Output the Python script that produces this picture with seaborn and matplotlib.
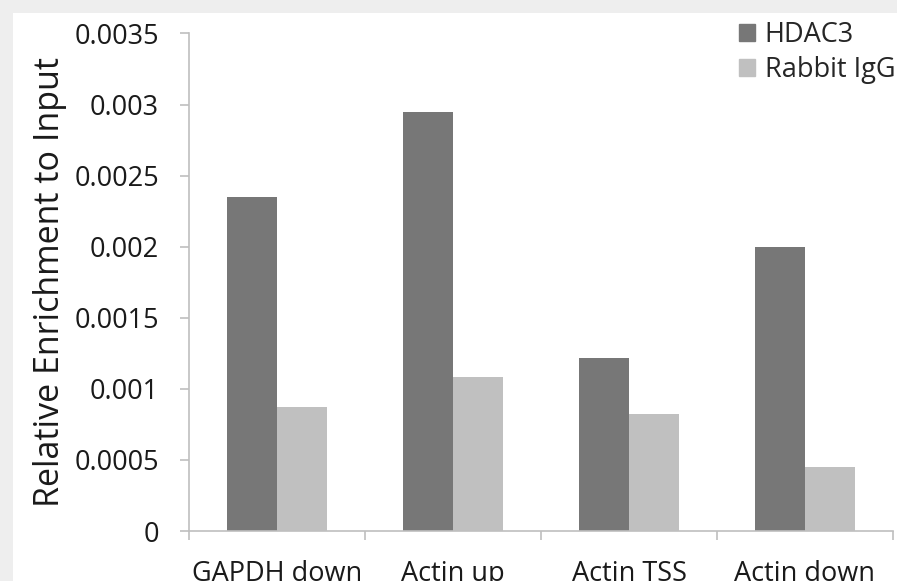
import seaborn as sns
import matplotlib.pyplot as plt
import matplotlib.patches as mpatches
import pandas as pd
import numpy as np

# data
regions = ["GAPDH down", "Actin up", "Actin TSS", "Actin down"]
hdac3 = [0.00235, 0.00295, 0.00122, 0.00200]
rabbit_igg = [0.00087, 0.00108, 0.00082, 0.00045]
series = ["HDAC3", "Rabbit IgG"]
yticks = [0, 0.0005, 0.001, 0.0015, 0.002, 0.0025, 0.003, 0.0035]
ytick_labels = ["0", "0.0005", "0.001", "0.0015", "0.002", "0.0025", "0.003", "0.0035"]

df = pd.DataFrame({
    "region": regions * 2,
    "series": [series[0]] * len(regions) + [series[1]] * len(regions),
    "value": hdac3 + rabbit_igg,
})

sns.set_style("white")
plt.rcParams['font.family'] = ['Open Sans', 'DejaVu Sans']

fig = plt.figure(figsize=(8.97, 5.81), dpi=100, facecolor="#eeeeee")
# white panel inside the grey frame
fig.patches.append(mpatches.Rectangle((13 / 897, 0), 1, 1 - 13 / 581,
                                      transform=fig.transFigure, facecolor="white",
                                      edgecolor="none", zorder=-10))
ax = fig.add_axes([189 / 897, 50 / 581, (893 - 189) / 897, (531 - 33.5) / 581])
ax.set_facecolor("none")

sns.barplot(data=df, x="region", y="value", hue="series", ax=ax,
            palette=["#777777", "#c0c0c0"], width=0.57, saturation=1,
            edgecolor="none", linewidth=0)

ax.set_ylim(0, 0.0035)
ax.set_xlim(-0.5, len(regions) - 0.5)
ax.set_yticks(yticks)
ax.set_yticklabels(ytick_labels)
ax.set_xticks(range(len(regions)))
ax.set_xticklabels(regions)
ax.set_xticks(np.arange(-0.5, len(regions)), minor=True)

for s in ["top", "right"]:
    ax.spines[s].set_visible(False)
for s in ["left", "bottom"]:
    ax.spines[s].set_color("#bfbfbf")
    ax.spines[s].set_linewidth(1.2)

ax.tick_params(axis="y", which="major", left=True, length=6.5, width=1.2,
               color="#bfbfbf", labelsize=19.5, pad=15, labelcolor="#1a1a1a")
ax.tick_params(axis="x", which="major", bottom=False, length=0,
               labelsize=19.5, pad=21, labelcolor="#1a1a1a")
ax.tick_params(axis="x", which="minor", bottom=True, length=6.5, width=1.2,
               color="#bfbfbf")

ax.set_xlabel("")
ax.set_ylabel("Relative Enrichment to Input", fontsize=24.5, color="#1a1a1a", labelpad=5)

handles = [mpatches.Patch(color="#777777", label=series[0]),
           mpatches.Patch(color="#c0c0c0", label=series[1])]
ax.legend(handles=handles, loc="upper left", bbox_to_anchor=(739 / 897, 1 - 21 / 581),
          bbox_transform=fig.transFigure, frameon=False, fontsize=19.5,
          handlelength=0.6, handleheight=0.6, handletextpad=0.35,
          labelspacing=0.25, borderaxespad=0, borderpad=0)

fig.savefig("out.png", dpi=100, facecolor=fig.get_facecolor())
